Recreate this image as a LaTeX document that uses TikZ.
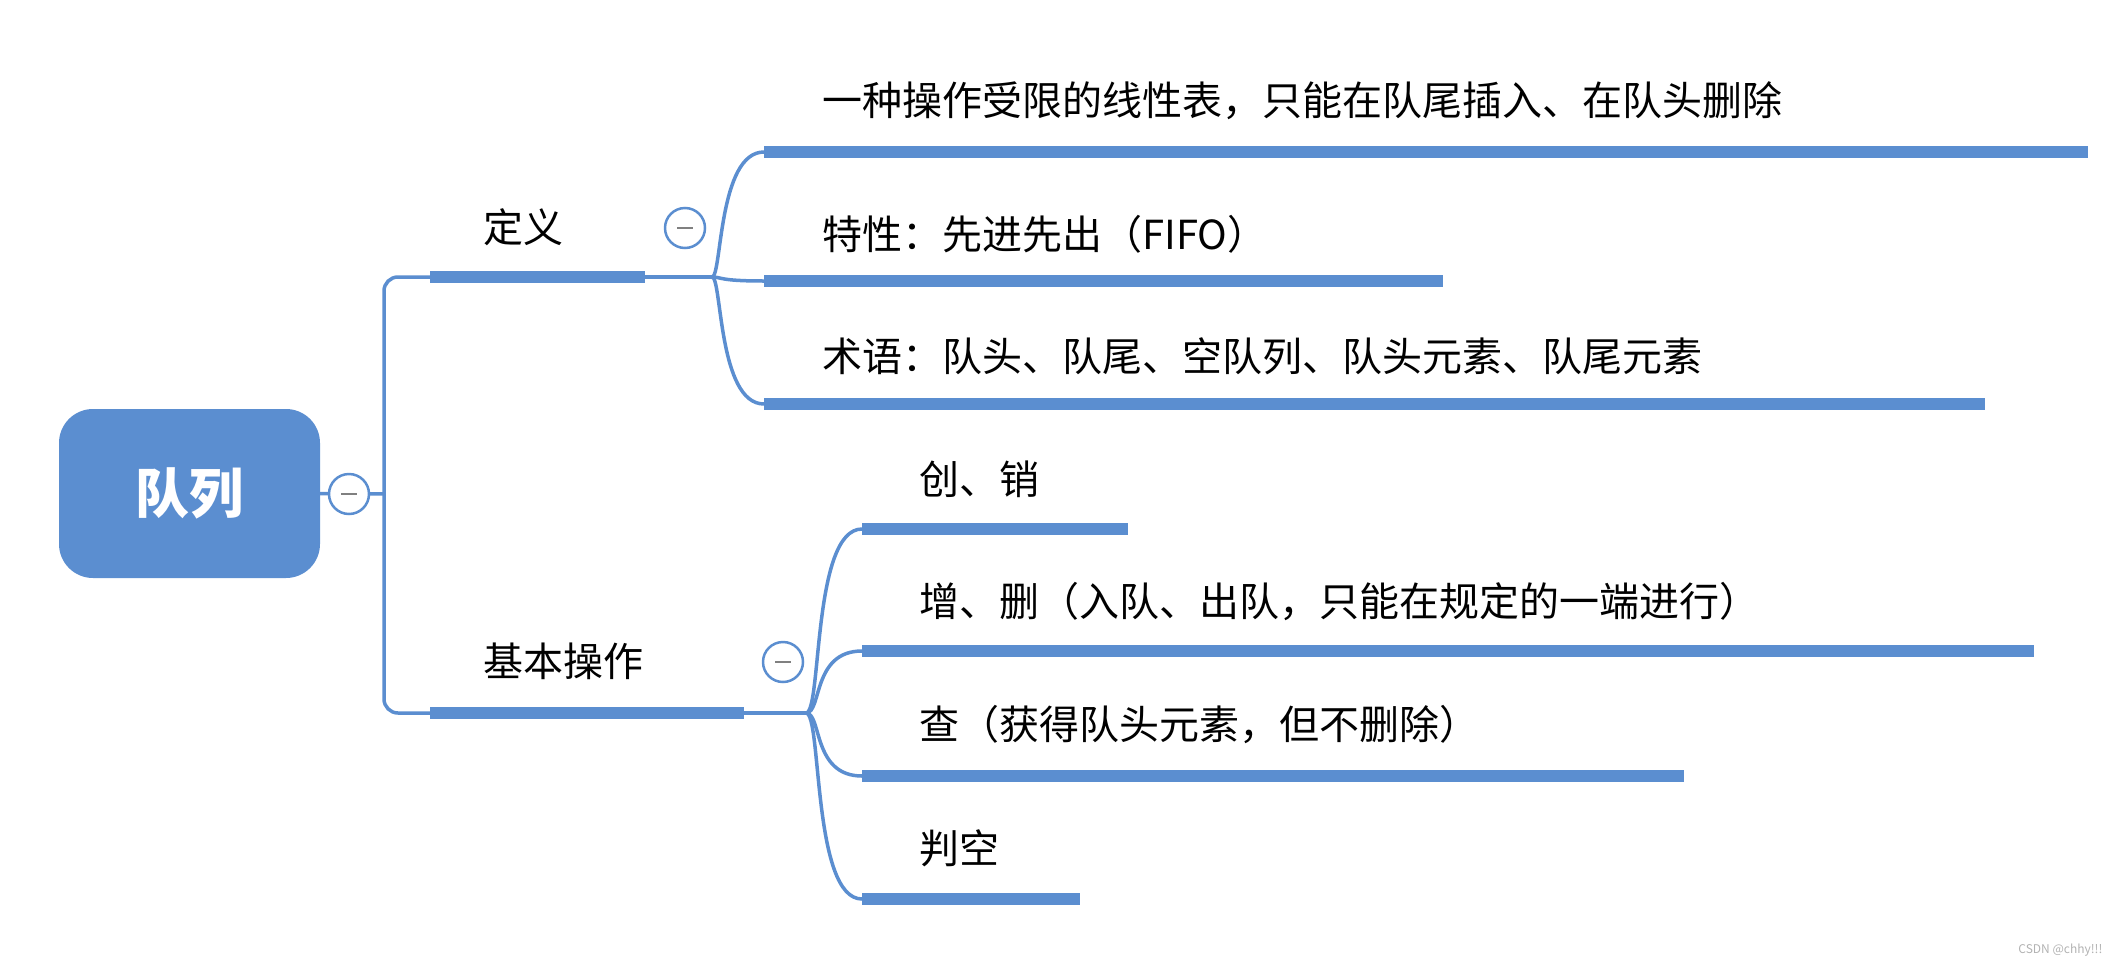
\documentclass[tikz,border=0pt]{standalone}
\usepackage{fontspec}
\setmainfont{Noto Sans CJK SC}
\definecolor{mb}{HTML}{5B8ED0}
\begin{document}
\begin{tikzpicture}[x=1pt,y=-1pt,
  bar/.style={line width=12pt,draw=mb},
  conn/.style={line width=3.5pt,draw=mb},
  lbl/.style={anchor=west,inner sep=0pt,font=\fontsize{40}{46}\selectfont},
  minus/.style={circle,draw=mb,line width=2.5pt,fill=white,minimum size=40pt,inner sep=0pt}]
\useasboundingbox (0,0) rectangle (2112,964);
% root
\node[fill=mb,rounded corners=34pt,minimum width=261pt,minimum height=169pt,text=white,font=\fontsize{54}{60}\selectfont\bfseries] (root) at (189.5,493.5) {队列};
\coordinate (j) at (384,494);
\draw[conn] (root.east) -- (j);
\node[minus] (m0) at (349,494) {}; \draw[gray,line width=2.5pt] (341,494) -- (357,494);
% level 1 bars
\coordinate (d1) at (430,277); \coordinate (d2) at (645,277);
\coordinate (b1) at (430,713); \coordinate (b2) at (744,713);
\draw[conn,rounded corners=14pt] (d1) -- (384,277) -- (384,713) -- (b1);
\draw[bar] (d1) -- (d2);
\draw[bar] (b1) -- (b2);
\node[lbl] (tdef) at (483,227) {定义};
\node[lbl] (tbas) at (483,661) {基本操作};
\node[minus] (m1) at (685,228) {}; \draw[gray,line width=2.5pt] (677,228) -- (693,228);
\node[minus] (m2) at (783,662) {}; \draw[gray,line width=2.5pt] (775,662) -- (791,662);
% definition children
\coordinate (ds) at (712,277);
\draw[conn] (d2) -- (ds);
\foreach \y/\e/\n in {152/2088/a,281/1443/b,404/1985/c}{
  \coordinate (s\n) at (764,\y); \coordinate (e\n) at (\e,\y);
  \draw[conn] (ds) .. controls (722,277) and (718,\y) .. (s\n);
  \draw[bar] (s\n) -- (e\n);
}
\node[lbl] (ta) at (822,101) {一种操作受限的线性表，只能在队尾插入、在队头删除};
\node[lbl] (tb) at (822,234) {特性：先进先出（FIFO）};
\node[lbl] (tc) at (822,356) {术语：队头、队尾、空队列、队头元素、队尾元素};
% basic ops children
\coordinate (bs) at (806,713);
\draw[conn] (b2) -- (bs);
\foreach \y/\e/\n in {529/1128/p,651/2034/q,776/1684/r,899/1080/s}{
  \coordinate (s\n) at (862,\y); \coordinate (e\n) at (\e,\y);
  \draw[conn] (bs) .. controls (822,713) and (812,\y) .. (s\n);
  \draw[bar] (s\n) -- (e\n);
}
\node[lbl] (tp) at (919,479) {创、销};
\node[lbl] (tq) at (919,602) {增、删（入队、出队，只能在规定的一端进行）};
\node[lbl] (tr) at (919,725) {查（获得队头元素，但不删除）};
\node[lbl] (ts) at (919,848) {判空};
\node[anchor=south east,text=gray!60,font=\fontsize{12}{14}\selectfont] (wm) at (2106,960) {CSDN @chhy!!!};
\end{tikzpicture}
\end{document}
